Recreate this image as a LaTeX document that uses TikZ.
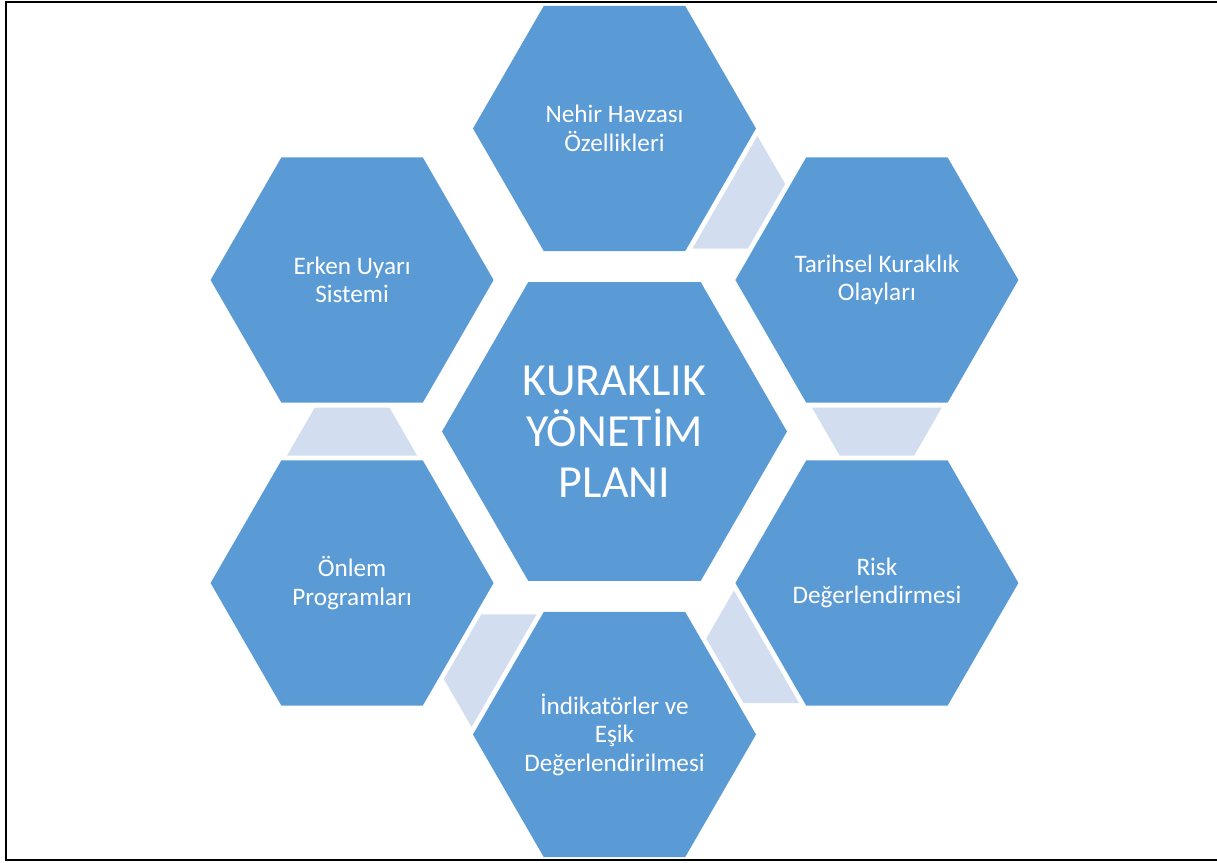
\documentclass[tikz,border=0pt]{standalone}
\usepackage{fontspec}
\setmainfont{Carlito}
\usetikzlibrary{shapes.geometric}
\definecolor{hexblue}{RGB}{91,155,213}
\definecolor{linkblue}{RGB}{210,222,239}

\begin{document}
\begin{tikzpicture}[x=1pt,y=1pt,
    hexbox/.style={regular polygon,regular polygon sides=6,fill=hexblue,text=white,align=center,inner sep=-25pt,minimum size=283pt,font=\fontsize{25.2}{28.5}\selectfont},
    hubbox/.style={hexbox,minimum size=345pt,font=\fontsize{46}{51}\selectfont}]
  \useasboundingbox (-614.5,-430.5) rectangle (602.5,431.5);
  \draw[line width=2pt] (620,429) -- (-608.5,429) -- (-608.5,-428.8) -- (620,-428.8);
  \foreach \a in {0,60,180,240,300}
    \fill[linkblue,rotate=\a] (197.4,24) -- (327.4,24) -- (299.7,-24) -- (225.1,-24) -- cycle;
  \node[hubbox] (plan) at (0,0) {KURAKLIK\\YÖNETİM\\PLANI};
  \node[hexbox] (havza) at (90:303) {Nehir Havzası\\Özellikleri};
  \node[hexbox] (tarih) at (30:303) {Tarihsel Kuraklık\\Olayları};
  \node[hexbox] (risk) at (-30:303) {Risk\\Değerlendirmesi};
  \node[hexbox] (esik) at (-90:303) {İndikatörler ve\\Eşik\\Değerlendirilmesi};
  \node[hexbox] (onlem) at (-150:303) {Önlem\\Programları};
  \node[hexbox] (erken) at (150:303) {Erken Uyarı\\Sistemi};
\end{tikzpicture}
\end{document}
